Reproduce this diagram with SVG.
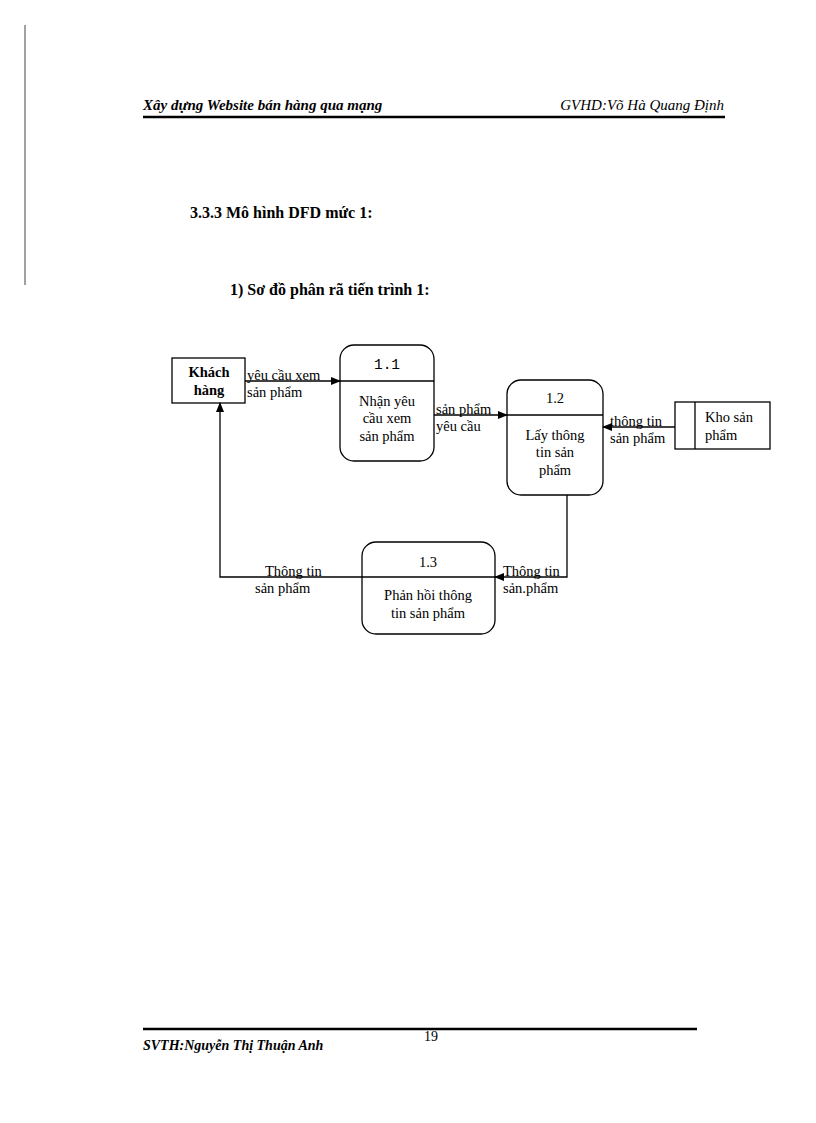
<svg xmlns="http://www.w3.org/2000/svg" width="816" height="1123" viewBox="0 0 816 1123">
<defs>
<marker id="ah" markerWidth="10" markerHeight="8" refX="9" refY="4" orient="auto" markerUnits="userSpaceOnUse"><path d="M0,0 L10,4 L0,8 Z" fill="#000"/></marker>
<style>
text{font-family:"Liberation Serif",serif;fill:#000}
.n{font-size:14.5px;text-anchor:middle}
.l{font-size:14.5px}
.b{fill:#fff;stroke:#000;stroke-width:1.3}
.c{fill:none;stroke:#000;stroke-width:1.3}
</style>
</defs>
<rect width="816" height="1123" fill="#fff"/>
<line x1="25" y1="25" x2="25" y2="285" stroke="#444" stroke-width="1"/>
<text x="143" y="110" style="font-size:15px;font-style:italic;font-weight:bold">Xây dựng Website bán hàng qua mạng</text>
<text x="724" y="110" style="font-size:15px;font-style:italic;text-anchor:end">GVHD:Võ Hà Quang Định</text>
<line x1="143" y1="117" x2="725" y2="117" stroke="#000" stroke-width="2.5"/>
<text x="190" y="218" style="font-size:16px;font-weight:bold">3.3.3 Mô hình DFD mức 1:</text>
<text x="230" y="295" style="font-size:16px;font-weight:bold">1) Sơ đồ phân rã tiến trình 1:</text>
<g id="khach"><rect class="b" x="172" y="358" width="73" height="45" stroke-width="2"/><text class="n" x="209" y="377" font-weight="bold">Khách</text><text class="n" x="209" y="395" font-weight="bold">hàng</text></g>
<g id="p11"><rect class="b" x="340" y="345" width="94" height="116" rx="14"/><line class="c" x1="340" y1="381" x2="434" y2="381"/><text class="n" x="387" y="369" style="font-family:'Liberation Mono',monospace">1.1</text><text class="n" x="387" y="406">Nhận yêu</text><text class="n" x="387" y="423">cầu xem</text><text class="n" x="387" y="441">sản phẩm</text></g>
<g id="p12"><rect class="b" x="507" y="380" width="96" height="115" rx="14"/><line class="c" x1="507" y1="415" x2="603" y2="415"/><text class="n" x="555" y="403">1.2</text><text class="n" x="555" y="440">Lấy thông</text><text class="n" x="555" y="457">tin sản</text><text class="n" x="555" y="475">phẩm</text></g>
<g id="kho"><rect class="b" x="675" y="402" width="95" height="47"/><line class="c" x1="695" y1="402" x2="695" y2="449"/><text class="l" x="705" y="422">Kho sản</text><text class="l" x="705" y="440">phẩm</text></g>
<g id="p13"><rect class="b" x="362" y="542" width="133" height="92" rx="14"/><line class="c" x1="362" y1="577" x2="495" y2="577"/><text class="n" x="428" y="567">1.3</text><text class="n" x="428" y="600">Phản hồi thông</text><text class="n" x="428" y="618">tin sản phẩm</text></g>
<g id="connectors">
<line class="c" x1="245" y1="381" x2="340" y2="381" marker-end="url(#ah)"/>
<line class="c" x1="434" y1="415" x2="507" y2="415" marker-end="url(#ah)"/>
<line class="c" x1="675" y1="427" x2="603" y2="427" marker-end="url(#ah)"/>
<polyline class="c" points="567,495 567,577 495,577" marker-end="url(#ah)"/>
<polyline class="c" points="362,577 220,577 220,403" marker-end="url(#ah)"/>
<text class="l" x="247" y="380">yêu cầu xem</text><text class="l" x="247" y="397">sản phẩm</text>
<text class="l" x="436" y="414">sản phẩm</text><text class="l" x="436" y="431">yêu cầu</text>
<text class="l" x="610" y="426">thông tin</text><text class="l" x="610" y="443">sản phẩm</text>
<text class="l" x="503" y="576">Thông tin</text><text class="l" x="503" y="593">sản.phẩm</text>
<text class="l" x="265" y="576">Thông tin</text><text class="l" x="255" y="593">sản phẩm</text>
</g>
<line x1="143" y1="1029" x2="697" y2="1029" stroke="#000" stroke-width="2.5"/>
<text x="424" y="1041" style="font-size:14px">19</text>
<text x="143" y="1050" style="font-size:14px;font-style:italic;font-weight:bold">SVTH:Nguyễn Thị Thuận Anh</text>
</svg>
